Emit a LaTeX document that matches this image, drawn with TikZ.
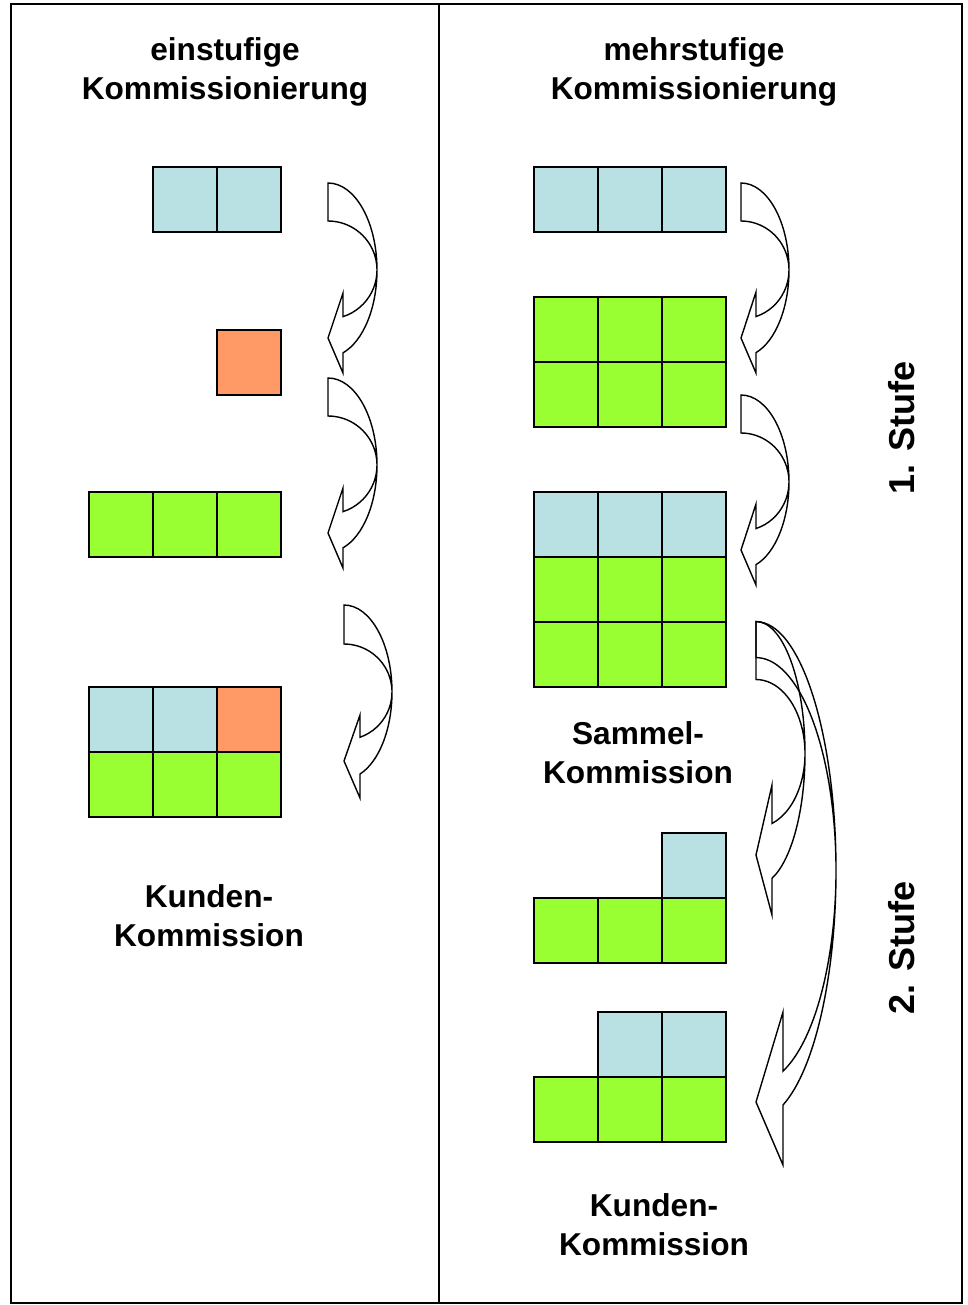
\documentclass[tikz,border=0pt]{standalone}
\usepackage{fontspec}
\setmainfont{Liberation Sans}
\usepackage{xcolor}
\usetikzlibrary{calc}

\definecolor{hellblau}{RGB}{185,224,227}
\definecolor{gruen}{RGB}{153,255,51}
\definecolor{lachs}{RGB}{255,153,102}

\begin{document}
\begin{tikzpicture}[x=0.02cm, y=0.02cm,
		zelle/.style={draw, line width=1pt},
		pfeil/.style={draw, line width=0.8pt, line join=miter},
		titel/.style={font=\fontsize{18}{22}\selectfont\bfseries, align=center},
		stufe/.style={font=\fontsize{20.5}{24}\selectfont\bfseries, rotate=90}]
			\useasboundingbox (0,0) rectangle (967,-1305);
			
			% Rahmen und Trennlinie
			\draw[line width=1pt] (11,-4) rectangle (962,-1303);
			\draw[line width=1pt] (439,-4) -- (439,-1303);
			
			% Ueberschriften
			\node[titel] (einstufig) at (225,-72) {einstufige\\Kommissionierung};
			\node[titel] (mehrstufig) at (694,-72) {mehrstufige\\Kommissionierung};
			
			% Zellen (linke obere Ecke, Farbe)
			\foreach \x/\y/\farbe in {153/167/hellblau, 217/167/hellblau,
				217/330/lachs,
				89/492/gruen, 153/492/gruen, 217/492/gruen,
				89/687/hellblau, 153/687/hellblau, 217/687/lachs,
				89/752/gruen, 153/752/gruen, 217/752/gruen,
				534/167/hellblau, 598/167/hellblau, 662/167/hellblau,
				534/297/gruen, 598/297/gruen, 662/297/gruen,
				534/362/gruen, 598/362/gruen, 662/362/gruen,
				534/492/hellblau, 598/492/hellblau, 662/492/hellblau,
				534/557/gruen, 598/557/gruen, 662/557/gruen,
				534/622/gruen, 598/622/gruen, 662/622/gruen,
				662/833/hellblau,
				534/898/gruen, 598/898/gruen, 662/898/gruen,
				598/1012/hellblau, 662/1012/hellblau,
				534/1077/gruen, 598/1077/gruen, 662/1077/gruen}
				\draw[zelle, fill=\farbe] (\x,-\y) rectangle ++(64,-65);
			
			% Bogenpfeile (x, Mitte, Radien, Pfeilspitze)
			\foreach \x/\yc/\rx/\ro/\ri/\dx/\yu/\yt/\yb in {
				328/270/49/87/49/15/293/338/373,
				328/465/49/87/49/15/488/533/568,
				344/692/48/87/48/16/715/761/798,
				741/270/48/87/49/15/292/338/373,
				741/482/48/87/49/15/504/550/585,
				756/753.5/49/132/74/16/785/855/915,
				756/870.6/80/249/213/27/1012/1102/1165}{
				\pgfmathsetmacro{\wink}{acos(\dx/\rx)}
				\draw[pfeil] (\x,{-\yc+\ro})
					arc[start angle=90, end angle=-\wink, x radius=\rx, y radius=\ro]
					-- ({\x+\dx},-\yb) -- (\x,-\yt) -- ({\x+\dx},-\yu)
					-- ({\x+\dx},{-\yc-\ri*sin(\wink)})
					arc[start angle=-\wink, end angle=90, x radius=\rx, y radius=\ri]
					-- cycle;
			}
			
			% Beschriftungen
			\node[titel] (kundenlinks) at (209,-916) {Kunden-\\Kommission};
			\node[titel] (sammel) at (638,-753) {Sammel-\\Kommission};
			\node[titel] (kundenrechts) at (654,-1225) {Kunden-\\Kommission};
			\node[stufe] (stufe1) at (902,-428) {1. Stufe};
			\node[stufe] (stufe2) at (902,-948) {2. Stufe};
			
		\end{tikzpicture}
\end{document}
